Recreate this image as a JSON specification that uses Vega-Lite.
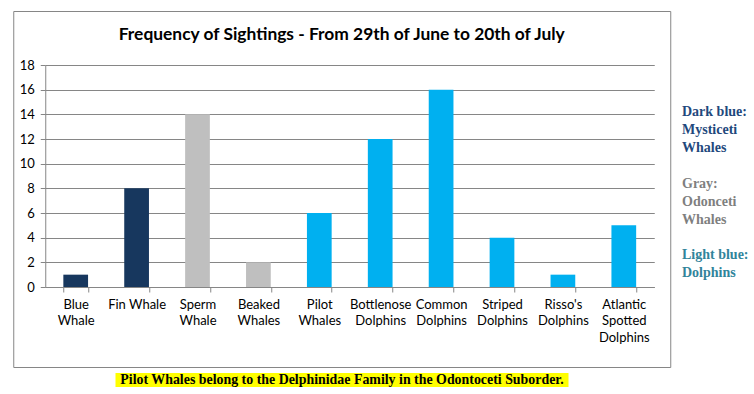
{
  "$schema": "https://vega.github.io/schema/vega-lite/v6.json",
  "background": "#ffffff",
  "padding": {"left": 12, "top": 10, "right": 0, "bottom": 0},
  "config": {
    "font": "Lato",
    "view": {"stroke": null}
  },
  "spacing": 10,
  "resolve": {"scale": {"color": "independent"}},
  "hconcat": [
    {
      "vconcat": [
        {
          "width": 657,
          "height": 356,
          "view": {"stroke": "#868686", "strokeWidth": 1, "fill": "#ffffff"},
          "title": {
            "text": "Frequency of Sightings - From 29th of June to 20th of July",
            "font": "Lato",
            "fontSize": 17.4,
            "fontWeight": "bold",
            "color": "#000000",
            "anchor": "middle",
            "frame": "group",
            "offset": -32
          },
          "data": {
            "values": [
              {"species": "Blue Whale", "group": "Mysticeti", "count": 1},
              {"species": "Fin Whale", "group": "Mysticeti", "count": 8},
              {"species": "Sperm Whale", "group": "Odontoceti", "count": 14},
              {"species": "Beaked Whales", "group": "Odontoceti", "count": 2},
              {"species": "Pilot Whales", "group": "Dolphins", "count": 6},
              {"species": "Bottlenose Dolphins", "group": "Dolphins", "count": 12},
              {"species": "Common Dolphins", "group": "Dolphins", "count": 16},
              {"species": "Striped Dolphins", "group": "Dolphins", "count": 4},
              {"species": "Risso's Dolphins", "group": "Dolphins", "count": 1},
              {"species": "Atlantic Spotted Dolphins", "group": "Dolphins", "count": 5}
            ]
          },
          "mark": {"type": "bar"},
          "encoding": {
            "x": {
              "field": "species",
              "type": "nominal",
              "sort": null,
              "scale": {"range": [32, 641], "paddingInner": 0.594, "paddingOuter": 0.297},
              "axis": {
                "title": null,
                "orient": "bottom",
                "offset": -80,
                "labelAngle": 0,
                "labelFont": "Lato",
                "labelFontSize": 13,
                "labelColor": "#000000",
                "labelLineHeight": 16.5,
                "labelPadding": 6,
                "labelLimit": 0,
                "labelExpr": "datum.label == 'Fin Whale' ? datum.label : split(datum.label, ' ')",
                "domainColor": "#868686",
                "tickColor": "#868686",
                "tickSize": 5,
                "tickBand": "extent",
                "grid": false
              }
            },
            "y": {
              "field": "count",
              "type": "quantitative",
              "scale": {"domain": [0, 18], "range": [276, 54], "nice": false},
              "axis": {
                "title": null,
                "orient": "left",
                "offset": -32,
                "values": [0, 2, 4, 6, 8, 10, 12, 14, 16, 18],
                "labelFont": "Lato",
                "labelFontSize": 13,
                "labelColor": "#000000",
                "labelPadding": 6,
                "domainColor": "#868686",
                "tickColor": "#868686",
                "tickSize": 5,
                "grid": true,
                "gridColor": "#868686",
                "gridOpacity": 1
              }
            },
            "color": {
              "field": "group",
              "type": "nominal",
              "scale": {"domain": ["Mysticeti", "Odontoceti", "Dolphins"], "range": ["#17375E", "#BFBFBF", "#00B0F0"]},
              "legend": null
            }
          }
        },
        {
          "width": 453,
          "height": 14,
          "view": {"fill": "#FFFF00", "stroke": null},
          "data": {"values": [{"note": "Pilot Whales belong to the Delphinidae Family in the Odontoceti Suborder."}]},
          "mark": {"type": "text", "font": "Liberation Serif", "fontWeight": "bold", "fontSize": 13.9, "color": "#000000", "align": "center", "baseline": "middle"},
          "encoding": {"text": {"field": "note", "type": "nominal"}}
        }
      ],
      "spacing": 5,
      "center": true
    },
    {
      "width": 2,
      "height": 290,
      "data": {
        "values": [
          {"key": "Mysticeti", "label": "Dark blue:\nMysticeti\nWhales"},
          {"key": "Odontoceti", "label": "Gray:\nOdonceti\nWhales"},
          {"key": "Dolphins", "label": "Light blue:\nDolphins"}
        ]
      },
      "mark": {"type": "text", "font": "Liberation Serif", "fontWeight": "bold", "fontSize": 14, "align": "left", "baseline": "alphabetic", "lineBreak": "\n", "lineHeight": 18},
      "encoding": {
        "y": {"field": "key", "type": "nominal", "sort": null, "scale": {"type": "point", "range": [105, 248], "padding": 0}, "axis": null},
        "text": {"field": "label", "type": "nominal"},
        "color": {
          "field": "key",
          "type": "nominal",
          "scale": {"domain": ["Mysticeti", "Odontoceti", "Dolphins"], "range": ["#1F497D", "#7F7F7F", "#31849B"]},
          "legend": null
        }
      }
    }
  ]
}
